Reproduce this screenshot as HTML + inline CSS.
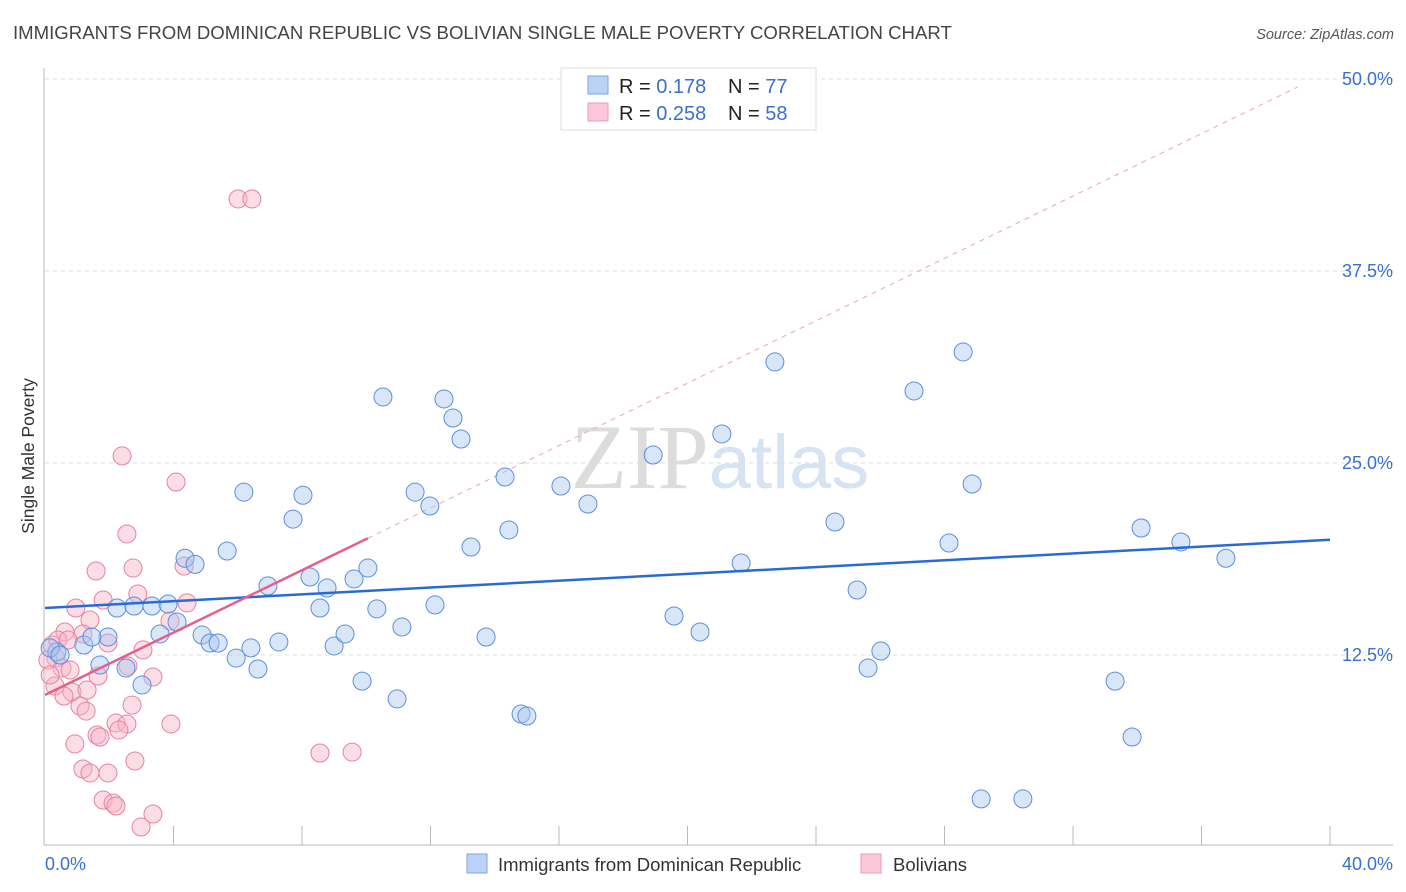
<!DOCTYPE html>
<html><head><meta charset="utf-8">
<style>
body{margin:0;background:#fff;font-family:"Liberation Sans",sans-serif;}
svg{display:block}
</style></head>
<body>
<svg id="chart" width="1406" height="892">
<text x="13" y="39" font-size="18.6" fill="#444">IMMIGRANTS FROM DOMINICAN REPUBLIC VS BOLIVIAN SINGLE MALE POVERTY CORRELATION CHART</text>
<text x="1394" y="39" font-size="14.5" fill="#555" font-style="italic" text-anchor="end">Source: ZipAtlas.com</text>
<text x="720" y="488" font-size="92" text-anchor="middle" fill="#e4e4e4" font-family="Liberation Serif,serif"><tspan fill="#dcdcdc">ZIP</tspan><tspan fill="#d6e3f3" font-family="Liberation Sans,sans-serif" font-size="76">atlas</tspan></text>
<text transform="translate(34,456) rotate(-90)" font-size="17.5" fill="#333" text-anchor="middle">Single Male Poverty</text>
<g id="grid"></g>
<g id="axes"></g>
<g id="marks"></g>
<g>
<rect x="561" y="68" width="255" height="62" fill="#fff" stroke="#ddd"/>
<rect x="588" y="76" width="20" height="18" fill="#b9d2f5" stroke="#7aa6e6"/>
<rect x="588" y="103" width="20" height="18" fill="#fcc7d6" stroke="#ee9ab4"/>
<text x="619" y="93" font-size="20" fill="#222">R = <tspan fill="#3a6fd0"> 0.178</tspan><tspan x="728">N = </tspan><tspan fill="#3a6fd0">77</tspan></text>
<text x="619" y="120" font-size="20" fill="#222">R = <tspan fill="#3a6fd0">0.258</tspan><tspan x="728">N = </tspan><tspan fill="#3a6fd0">58</tspan></text>
</g>
<g>
<rect x="467" y="854" width="20" height="19" fill="#b9d2f5" stroke="#7aa6e6"/>
<text x="498" y="871" font-size="18.5" fill="#333">Immigrants from Dominican Republic</text>
<rect x="861" y="854" width="20" height="19" fill="#fcc7d6" stroke="#ee9ab4"/>
<text x="893" y="871" font-size="18.5" fill="#333">Bolivians</text>
</g>
</svg>
<script>
const yTicks=[12.5,25,37.5,50];
const yTickLabels=["12.5%","25.0%","37.5%","50.0%"];
const xTickValues=[4,8,12,16,20,24,28,32,36,40];
const xEndLabels=["0.0%","40.0%"];
const blueX=[0.37,0.16,0.47,1.21,1.71,1.96,1.46,2.24,2.52,2.77,3.02,3.33,3.58,3.83,4.11,4.36,4.67,4.89,5.14,5.39,5.67,5.95,6.19,6.41,6.63,6.94,7.28,7.72,8.03,8.25,8.56,8.78,9.0,9.34,9.62,9.87,10.05,10.33,10.52,10.96,11.11,11.52,11.98,12.14,12.42,12.7,12.95,13.26,13.73,14.32,14.44,14.82,15.0,16.06,16.9,18.93,19.58,20.39,21.07,21.67,22.72,24.59,25.28,25.62,26.02,27.05,28.14,28.58,28.86,29.14,30.44,33.31,33.84,34.12,35.36,36.76];
const blueY=[12.7,12.96,12.5,13.15,11.85,13.67,13.67,15.56,11.65,15.69,10.55,15.69,13.87,15.82,14.65,18.8,18.4,13.8,13.28,13.28,19.27,12.3,23.1,12.96,11.59,17.0,13.35,21.35,22.9,17.58,15.56,16.86,13.09,13.87,17.45,10.8,18.16,15.5,29.3,9.64,14.32,23.1,22.2,15.76,29.17,27.93,26.56,19.53,13.67,24.09,20.64,8.66,8.53,23.5,22.33,25.52,15.04,14.0,26.89,18.49,31.58,21.16,16.73,11.65,12.76,29.69,19.79,32.23,23.63,3.13,3.13,10.8,7.16,20.77,19.86,18.8];
const pinkX=[6.01,6.44,2.4,4.08,2.55,1.59,2.74,4.33,2.89,4.42,1.81,0.96,1.4,3.89,0.62,1.18,1.96,3.05,0.22,0.34,0.53,0.78,2.58,3.36,1.65,0.31,0.84,1.31,0.59,1.09,1.28,2.71,2.21,2.55,3.92,1.62,1.71,2.3,0.93,1.18,1.4,1.96,2.8,8.56,9.56,1.81,2.12,2.21,3.36,2.99,0.09,0.16,0.4,0.72];
const pinkY=[42.19,42.19,25.46,23.76,20.38,17.97,18.16,18.29,16.47,15.89,16.08,15.56,14.78,14.71,14.0,13.87,13.28,12.83,13.15,12.3,11.65,11.52,11.78,11.07,11.13,10.48,10.09,10.22,9.83,9.18,8.85,9.24,8.07,8.01,8.01,7.29,7.16,7.62,6.71,5.08,4.82,4.82,5.6,6.12,6.18,3.06,2.86,2.67,2.15,1.3,12.17,11.2,13.48,13.48];
const blueTrend=[15.56,0.111];
const pinkTrend=[9.9,1.015];
const pinkSolidEnd=[10.05];

const NS="http://www.w3.org/2000/svg";
const X0=45,X1=1330,Y0=847,PXY=15.36;
const sx=v=>X0+(v/40)*(X1-X0);
const sy=v=>Y0-v*PXY;
function mk(tag,attrs,parent){const e=document.createElementNS(NS,tag);for(const k in attrs)e.setAttribute(k,attrs[k]);parent.appendChild(e);return e;}
const grid=document.getElementById('grid'),axes=document.getElementById('axes'),marks=document.getElementById('marks');
yTicks.forEach((t,i)=>{
 const l=mk('line',{x1:45,x2:1393,y1:sy(t),y2:sy(t),stroke:'#ddd','stroke-dasharray':'4,4'},grid);
 
 
 const tx=mk('text',{x:1393,y:sy(t)+6,'font-size':18,fill:'#3a6fd0','text-anchor':'end'},grid);
 tx.textContent=yTickLabels[i];
 
 
});
const ya=mk('line',{x1:44,x2:44,y1:68,y2:845,stroke:'#bbb'},axes);


const xa=mk('line',{x1:44,x2:1393,y1:845,y2:845,stroke:'#bbb'},axes);


xTickValues.forEach(t=>{
 const l=mk('line',{x1:sx(t),x2:sx(t),y1:826,y2:845,stroke:'#bbb'},axes);
 
 
});
[[0,45,'start'],[40,1393,'end']].forEach((d,i)=>{
 const t=mk('text',{x:d[1],y:870,'font-size':18,fill:'#3a6fd0','text-anchor':d[2]},axes);
 t.textContent=xEndLabels[i];
 
 
});
const pd=mk('line',{x1:sx(pinkSolidEnd[0]),y1:sy(pinkTrend[0]+pinkTrend[1]*pinkSolidEnd[0]),x2:sx(39),y2:sy(pinkTrend[0]+pinkTrend[1]*39),stroke:'#eba5bb','stroke-dasharray':'5,5','stroke-width':1},marks);


function dots(xs,ys,fill,stroke,name){
 xs.forEach((x,i)=>{
  const c=mk('circle',{cx:sx(x),cy:sy(ys[i]),r:9,fill:fill,stroke:stroke,'stroke-width':1,'fill-opacity':0.45},marks);
  
  
 });
}
dots(pinkX,pinkY,'#f7b3c8','#e8819f','pink-point');
dots(blueX,blueY,'#a9c8f0','#5b8fde','blue-point');
const bl=mk('line',{x1:sx(0),y1:sy(blueTrend[0]),x2:sx(40),y2:sy(blueTrend[0]+blueTrend[1]*40),stroke:'#2a6ad6','stroke-width':2.5},marks);


const pl=mk('line',{x1:sx(0),y1:sy(pinkTrend[0]),x2:sx(pinkSolidEnd[0]),y2:sy(pinkTrend[0]+pinkTrend[1]*pinkSolidEnd[0]),stroke:'#e4608a','stroke-width':2.5},marks);


</script>
</body></html>
